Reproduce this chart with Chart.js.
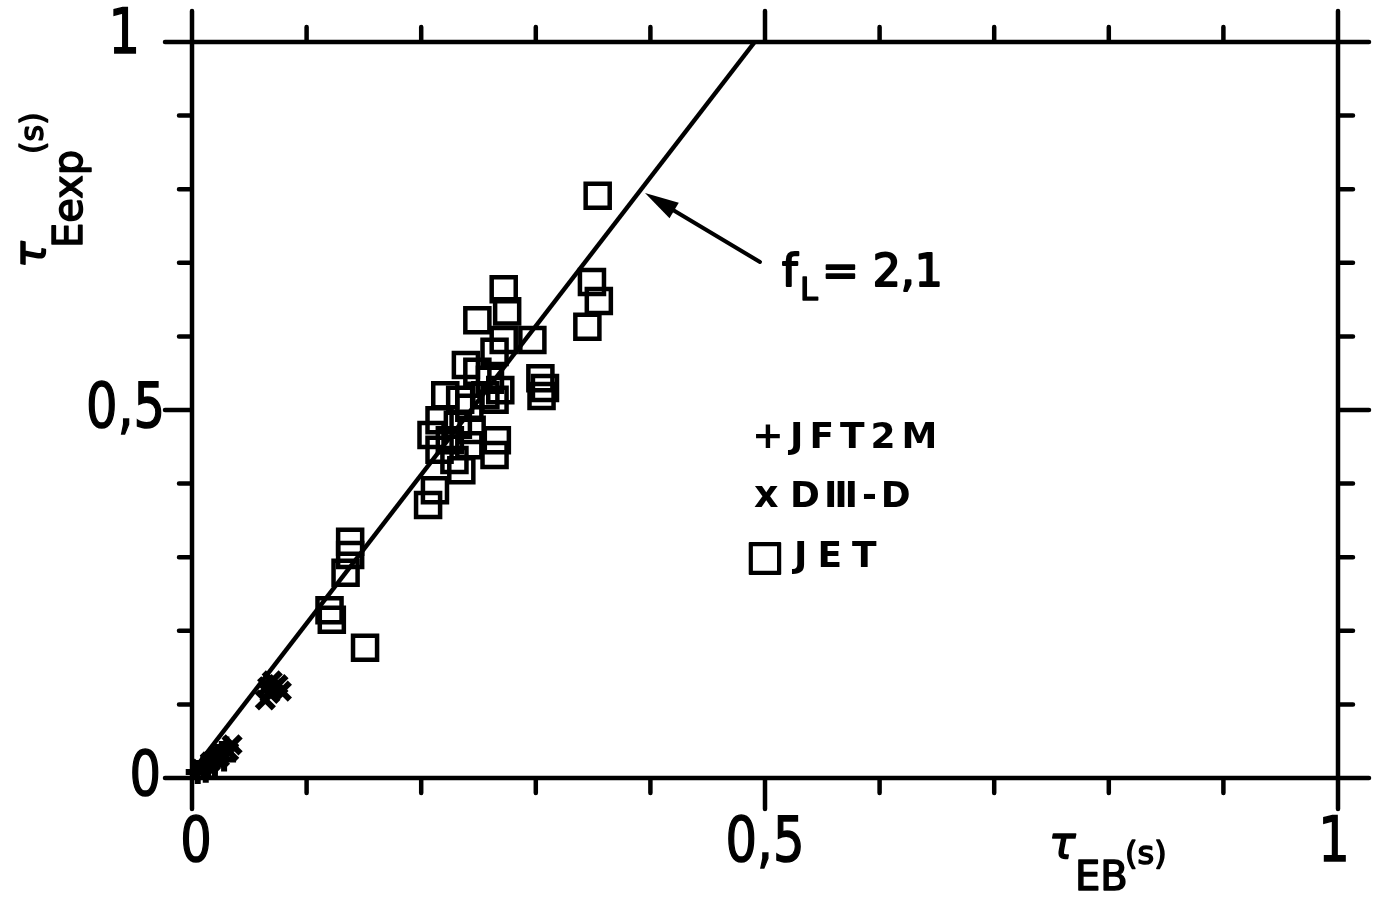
<!DOCTYPE html>
<html>
<head>
<meta charset="utf-8">
<script src="https://cdn.jsdelivr.net/npm/chart.js@4.4.1/dist/chart.umd.min.js"></script>
<style>
  html, body { margin: 0; padding: 0; background: #fff; }
  #wrap { width: 1386px; height: 910px; }
</style>
</head>
<body>
<div id="wrap"><canvas id="chart" width="1386" height="910"></canvas></div>
<script>
// JET discharges (tau_EB, tau_Eexp), seconds
const jetX = [0.354, 0.349, 0.355, 0.345, 0.272, 0.275, 0.249, 0.297, 0.272, 0.264,
              0.304, 0.305, 0.308, 0.239, 0.249, 0.260, 0.269, 0.256, 0.221, 0.234,
              0.242, 0.264, 0.266, 0.264, 0.242, 0.209, 0.216, 0.225, 0.229, 0.235,
              0.212, 0.206, 0.216, 0.232, 0.244, 0.138, 0.138, 0.134, 0.120, 0.122,
              0.151];
const jetY = [0.791, 0.674, 0.648, 0.613, 0.664, 0.634, 0.622, 0.595, 0.595, 0.579,
              0.543, 0.519, 0.530, 0.561, 0.552, 0.541, 0.527, 0.520, 0.520, 0.514,
              0.503, 0.514, 0.459, 0.439, 0.452, 0.466, 0.446, 0.459, 0.432, 0.418,
              0.391, 0.371, 0.486, 0.480, 0.473, 0.321, 0.303, 0.279, 0.228, 0.215,
              0.177];

// DIII-D
const d3dX = [0.008, 0.016, 0.024, 0.032, 0.035, 0.064, 0.068, 0.071, 0.075, 0.070, 0.078, 0.066];
const d3dY = [0.012, 0.022, 0.028, 0.036, 0.045, 0.106, 0.115, 0.121, 0.127, 0.132, 0.118, 0.124];

// JFT-2M
const jftX = [0.005, 0.010, 0.014, 0.018, 0.022, 0.026, 0.030, 0.012, 0.020, 0.028];
const jftY = [0.008, 0.015, 0.020, 0.026, 0.030, 0.034, 0.040, 0.010, 0.018, 0.025];

// f_L = 2,1 line
const fitX = [0.0, 0.491];
const fitY = [0.008, 1.0];

const tickStep = 0.1;
const majorTicks = [0, 0.5, 1];
const majorLabels = ['0', '0,5', '1'];

const FONT = '"DejaVu Sans", sans-serif';

const pts = (xs, ys) => xs.map((x, i) => ({ x: x, y: ys[i] }));

// draw a run of text pieces along a baseline; each piece has its own offset
function drawPieces(ctx, ox, oy, angle, pieces) {
    ctx.save();
    ctx.translate(ox, oy);
    ctx.rotate(angle);
    ctx.fillStyle = '#000';
    ctx.strokeStyle = '#000';
    ctx.lineJoin = 'round';
    ctx.textBaseline = 'alphabetic';
    ctx.textAlign = 'left';
    pieces.forEach(p => {
        ctx.font = (p.style || '') + ' ' + p.size + 'px ' + FONT;
        ctx.letterSpacing = (p.spacing || 0) + 'px';
        ctx.fillText(p.t, p.dx, p.dy);
        if (p.stroke) {
            ctx.lineWidth = p.stroke;
            ctx.strokeText(p.t, p.dx, p.dy);
        }
    });
    ctx.restore();
}

// tick label squeezed horizontally
function tickLabel(ctx, text, x, y, align) {
    ctx.save();
    ctx.translate(x, y);
    ctx.scale(0.8, 1);
    ctx.font = '62px ' + FONT;
    ctx.textAlign = align;
    ctx.textBaseline = 'middle';
    ctx.lineWidth = 1.5;
    ctx.fillText(text, 0, 0);
    ctx.strokeText(text, 0, 0);
    ctx.restore();
}

const framePlugin = {
    id: 'frame',
    afterDraw(chart) {
        const ctx = chart.ctx;
        const xs = chart.scales.x, ys = chart.scales.y;
        const L = xs.getPixelForValue(0), R = xs.getPixelForValue(1);
        const B = ys.getPixelForValue(0), T = ys.getPixelForValue(1);
        const minor = 15, major = 31;

        ctx.save();
        ctx.strokeStyle = '#000';
        ctx.fillStyle = '#000';
        ctx.lineWidth = 4.5;
        ctx.lineCap = 'round';
        ctx.beginPath();
        ctx.moveTo(L, B); ctx.lineTo(R, B);
        ctx.moveTo(L, T); ctx.lineTo(R, T);
        ctx.moveTo(L, B); ctx.lineTo(L, T);
        ctx.moveTo(R, B); ctx.lineTo(R, T);

        for (let i = 0; i <= 10; i++) {
            const v = i * tickStep;
            const len = majorTicks.some(m => Math.abs(m - v) < 1e-6) ? major : minor;
            const px = xs.getPixelForValue(v);
            const py = ys.getPixelForValue(v);
            ctx.moveTo(px, B); ctx.lineTo(px, B + len);
            ctx.moveTo(px, T); ctx.lineTo(px, T - len);
            ctx.moveTo(L, py); ctx.lineTo(L - (len === major ? 27 : 13), py);
            ctx.moveTo(R, py); ctx.lineTo(R + len, py);
        }
        ctx.stroke();

        // tick labels
        tickLabel(ctx, majorLabels[0], xs.getPixelForValue(0) + 4, B + 67, 'center');
        tickLabel(ctx, majorLabels[1], xs.getPixelForValue(0.5), B + 67, 'center');
        tickLabel(ctx, majorLabels[2], xs.getPixelForValue(1) - 4, B + 67, 'center');
        tickLabel(ctx, majorLabels[0], L - 31, ys.getPixelForValue(0) + 1, 'right');
        tickLabel(ctx, majorLabels[1], L - 27, ys.getPixelForValue(0.5) + 1, 'right');
        tickLabel(ctx, majorLabels[2], L - 52, ys.getPixelForValue(1) - 5, 'right');

        // axis titles
        drawPieces(ctx, 1049, 858, 0, [
            { t: '\u03c4', size: 44, dx: 0, dy: 0, style: 'oblique', stroke: 1.5 },
            { t: 'EB', size: 40, dx: 26, dy: 32, stroke: 1.5 },
            { t: '(s)', size: 32, dx: 76, dy: 6, stroke: 1.5 }
        ]);
        drawPieces(ctx, 45, 268, -Math.PI / 2, [
            { t: '\u03c4', size: 44, dx: 0, dy: 0, style: 'oblique', stroke: 1.5 },
            { t: 'Eexp', size: 40, dx: 20, dy: 37, stroke: 1.5 },
            { t: '(s)', size: 32, dx: 114, dy: -2, stroke: 1.5 }
        ]);

        // legend
        drawPieces(ctx, 752, 448, 0, [
            { t: '+', size: 38, dx: 0, dy: 0, style: 'bold' },
            { t: 'JFT2M', size: 36, dx: 38, dy: 0, spacing: 6, style: 'bold' }
        ]);
        drawPieces(ctx, 752, 507, 0, [
            { t: 'x', size: 38, dx: 2, dy: 0, style: 'bold' },
            { t: 'D\u2162-D', size: 36, dx: 38, dy: 0, spacing: 4, style: 'bold' }
        ]);
        drawPieces(ctx, 746, 567, 0, [
            { t: '\u25a1', size: 40, dx: 0, dy: 2, stroke: 2 },
            { t: 'JET', size: 36, dx: 48, dy: 0, spacing: 10, style: 'bold' }
        ]);

        // fit annotation with arrow
        ctx.beginPath();
        ctx.lineWidth = 4;
        ctx.moveTo(760, 262);
        ctx.lineTo(668, 207);
        ctx.stroke();
        const ax = 645, ay = 193;
        const ang = Math.atan2(262 - ay, 760 - ax);
        ctx.beginPath();
        ctx.moveTo(ax, ay);
        ctx.lineTo(ax + 34 * Math.cos(ang) - 9 * Math.sin(ang), ay + 34 * Math.sin(ang) + 9 * Math.cos(ang));
        ctx.lineTo(ax + 34 * Math.cos(ang) + 9 * Math.sin(ang), ay + 34 * Math.sin(ang) - 9 * Math.cos(ang));
        ctx.closePath();
        ctx.fill();

        drawPieces(ctx, 782, 286, 0, [
            { t: 'f', size: 44, dx: 0, dy: 0, stroke: 2 },
            { t: 'L', size: 32, dx: 18, dy: 14, stroke: 1.5 },
            { t: '= 2,1', size: 44, dx: 40, dy: 0, spacing: 0, stroke: 2 }
        ]);
        ctx.restore();
    }
};

new Chart(document.getElementById('chart').getContext('2d'), {
    type: 'scatter',
    data: {
        datasets: [
            {
                type: 'line',
                data: pts(fitX, fitY),
                borderColor: '#000',
                borderWidth: 4.5,
                pointRadius: 0,
                fill: false,
                clip: false
            },
            {
                label: 'JET',
                data: pts(jetX, jetY),
                pointStyle: 'rect',
                pointRadius: 17,
                borderWidth: 4.5,
                borderColor: '#000',
                backgroundColor: 'rgba(0,0,0,0)',
                clip: false
            },
            {
                label: 'DIII-D',
                data: pts(d3dX, d3dY),
                pointStyle: 'crossRot',
                pointRadius: 12,
                borderWidth: 6,
                borderColor: '#000',
                clip: false
            },
            {
                label: 'JFT2M',
                data: pts(jftX, jftY),
                pointStyle: 'cross',
                pointRadius: 12,
                borderWidth: 6,
                borderColor: '#000',
                clip: false
            }
        ]
    },
    options: {
        responsive: false,
        animation: false,
        events: [],
        layout: { padding: { left: 192, right: 48, top: 42, bottom: 132 } },
        scales: {
            x: { type: 'linear', min: 0, max: 1, display: false },
            y: { type: 'linear', min: 0, max: 1, display: false }
        },
        plugins: {
            legend: { display: false },
            tooltip: { enabled: false }
        }
    },
    plugins: [framePlugin]
});
</script>
</body>
</html>
